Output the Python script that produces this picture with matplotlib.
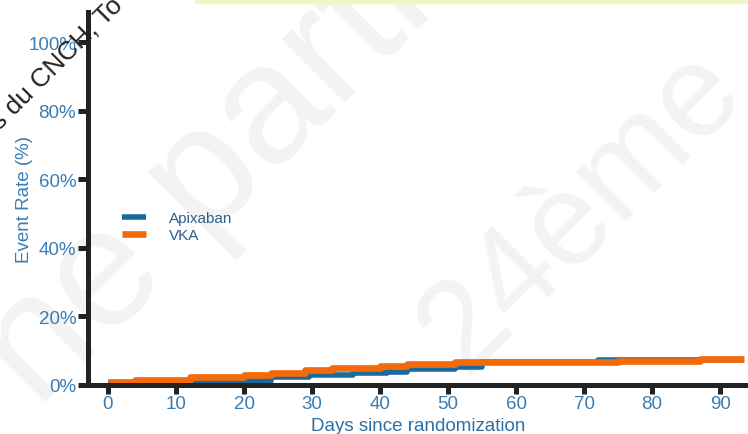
import matplotlib
matplotlib.use("Agg")
import matplotlib.pyplot as plt
from matplotlib.patches import Rectangle

plt.rcParams['font.family'] = ['Liberation Sans', 'DejaVu Sans']

# cumulative event rate (%), step curves
apix_days = [0, 8, 16, 24, 29.5, 36, 41, 44, 51, 55, 72, 93.5]
apix_rate = [0.5, 0.8, 1.1, 2.3, 2.8, 3.5, 3.8, 4.7, 5.3, 6.7, 7.3, 7.3]
vka_days = [0, 4, 12, 20, 24, 29, 33, 40, 44, 51, 75, 87, 93.5]
vka_rate = [0.9, 1.5, 2.3, 2.9, 3.5, 4.3, 5.0, 5.6, 6.2, 6.7, 7.0, 7.5, 7.5]

x_ticks = [0, 10, 20, 30, 40, 50, 60, 70, 80, 90]
y_ticks = [0, 20, 40, 60, 80, 100]
y_ticklabels = ['0%', '20%', '40%', '60%', '80%', '100%']

BLUE = '#1b6a9c'
ORANGE = '#f26a0a'
LABEL = '#3b7db3'
DARK = '#222222'

fig = plt.figure(figsize=(7.48, 4.35), dpi=100)
fig.patch.set_facecolor('white')

# faint background lettering, kept behind the axes
fig.text(0.05, 0.057, 'ne parti', fontsize=122, color='#f3f3f3', rotation=45,
         rotation_mode='anchor', ha='left', va='baseline', zorder=-2)
fig.text(0.622, 0.135, '24ème', fontsize=94, color='#f3f3f3', rotation=45,
         rotation_mode='anchor', ha='left', va='baseline', zorder=-2)

# thin banner strip at the top
fig.patches.append(Rectangle((195 / 748, 1 - 4 / 435), 1, 4 / 435,
                             transform=fig.transFigure, color='#f1f6c2', zorder=1))

ax = fig.add_axes([88 / 748, 49 / 435, 660 / 748, 373 / 435])
ax.patch.set_alpha(0)

ax.step(apix_days, apix_rate, where='post', color=BLUE, lw=4.0,
        solid_capstyle='butt', label='Apixaban', zorder=3)
ax.step(vka_days, vka_rate, where='post', color=ORANGE, lw=4.8,
        solid_capstyle='butt', label='VKA', zorder=4)

ax.set_xlim(-2.94, 94.1)
ax.set_ylim(0, 108.8)

for side in ['top', 'right']:
    ax.spines[side].set_visible(False)
for side in ['left', 'bottom']:
    ax.spines[side].set_linewidth(3.6)
    ax.spines[side].set_color(DARK)
    ax.spines[side].set_zorder(5)

ax.set_xticks(x_ticks)
ax.set_yticks(y_ticks)
ax.set_yticklabels(y_ticklabels)
ax.tick_params(axis='both', direction='out', width=3.6, color=DARK,
               labelcolor=LABEL, labelsize=13.5)
ax.tick_params(axis='y', length=7.5, pad=1)
ax.tick_params(axis='x', length=6.5, pad=1)

ax.set_xlabel('Days since randomization', fontsize=13.5, color='#2f70a3', labelpad=3)
ax.set_ylabel('Event Rate (%)', fontsize=13.5, color=LABEL)
ax.yaxis.set_label_coords(-0.083, 0.5)

leg = ax.legend(loc='upper left', bbox_to_anchor=(0.03, 0.503), frameon=False,
                fontsize=11, handlelength=1.6, handletextpad=1.5,
                labelspacing=0.2)
for t in leg.get_texts():
    t.set_color('#2d5f8c')

fig.text(0.0, 0.70, 's du CNCH, To', fontsize=19, color=DARK, rotation=45,
         rotation_mode='anchor', ha='left', va='baseline', zorder=10)

fig.savefig('out.png', dpi=100)
